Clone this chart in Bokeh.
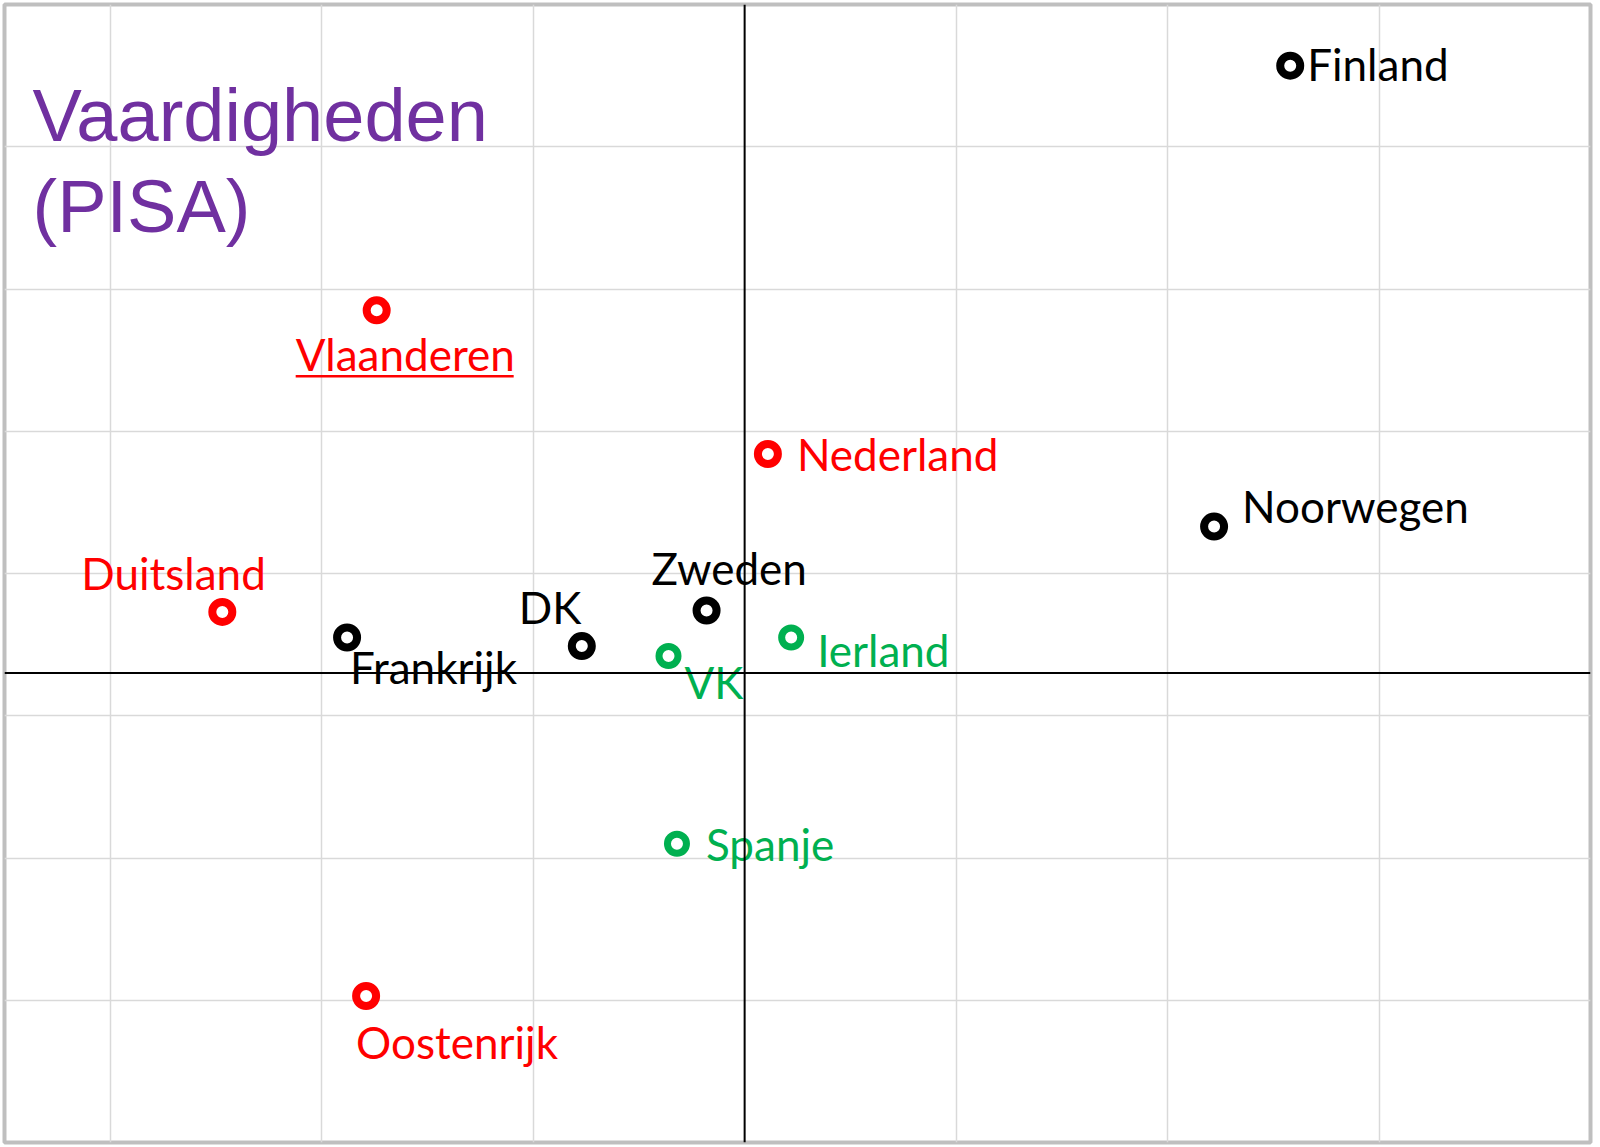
from bokeh.plotting import figure
from bokeh.models import ColumnDataSource, Span, Grid, FixedTicker, Label
from bokeh.core.properties import value
from bokeh.embed import file_html
from bokeh.resources import INLINE

# ---- data (abstract position on the two dimensions) ----
countries = ["Finland", "Vlaanderen", "Nederland", "Noorwegen", "Duitsland",
             "Frankrijk", "DK", "Zweden", "VK", "Ierland", "Spanje", "Oostenrijk"]
x_vals = [2.58, -1.74, 0.11, 2.22, -2.47, -1.88, -0.77, -0.18, -0.36, 0.22, -0.32, -1.79]
y_vals = [4.27, 2.55, 1.54, 1.03, 0.43, 0.25, 0.19, 0.44, 0.12, 0.25, -1.20, -2.27]
groups = ["noord", "rijn", "rijn", "noord", "rijn",
          "noord", "noord", "noord", "anglo", "anglo", "anglo", "rijn"]

# ---- styles ----
group_colors = {"noord": "#000000", "rijn": "#FF0000", "anglo": "#00B050"}
group_sizes = {"noord": 20, "rijn": 20, "anglo": 19}
group_lw = {"noord": 8, "rijn": 8, "anglo": 7}
# label offsets in screen pixels (left edge / baseline relative to marker)
label_dx = [17, -81, 29, 28, -141, 3, -63, -55, 16, 26, 29, -10]
label_dy = [14, 60, 16, -5, -23, 45, -23, -26, 42, 28, 16, 62]
BASELINE_FIX = -16

W, H, B = 1594, 1146, 4
X0, X1 = -3.5, 4.0
Y0, Y1 = -3.3, 4.7

colors = [group_colors[g] for g in groups]
sizes = [group_sizes[g] for g in groups]
lws = [group_lw[g] for g in groups]
dys = [d + BASELINE_FIX for d in label_dy]

src = ColumnDataSource(dict(x=x_vals, y=y_vals, name=countries, color=colors,
                            size=sizes, lw=lws, dx=label_dx, dy=dys))

p = figure(width=W, height=H, x_range=(X0, X1), y_range=(Y0, Y1),
           output_backend="svg", toolbar_location=None,
           min_border_left=B, min_border_right=B, min_border_top=B, min_border_bottom=B)
p.xaxis.visible = False
p.yaxis.visible = False
p.xgrid.visible = False
p.ygrid.visible = False
p.background_fill_color = "white"
p.border_fill_color = "white"
p.outline_line_color = "#BFBFBF"
p.outline_line_width = 4

gx = Grid(dimension=0, ticker=FixedTicker(ticks=[-3, -2, -1, 1, 2, 3]),
          grid_line_color="#D9D9D9", grid_line_width=1.5)
gy = Grid(dimension=1, ticker=FixedTicker(ticks=[-2.3, -1.3, -0.3, 0.7, 1.7, 2.7, 3.7]),
          grid_line_color="#D9D9D9", grid_line_width=1.5)
p.add_layout(gx)
p.add_layout(gy)

p.add_layout(Span(location=0, dimension="height", line_color="black", line_width=2))
p.add_layout(Span(location=0, dimension="width", line_color="black", line_width=2))

p.scatter("x", "y", source=src, marker="circle", size="size",
          fill_color="white", line_color="color", line_width="lw")

p.text("x", "y", text="name", source=src, x_offset="dx", y_offset="dy",
       text_color="color", text_font=value("Lato"), text_font_size="44px",
       text_align="left", text_baseline="alphabetic")

# underline under "Vlaanderen"
ppx = (W - 2 * B) / (X1 - X0)
ppy = (H - 2 * B) / (Y1 - Y0)
vi = countries.index("Vlaanderen")
ux0 = x_vals[vi] + label_dx[vi] / ppx
ux1 = ux0 + 218 / ppx
uy = y_vals[vi] - (label_dy[vi] + 6) / ppy
p.segment(x0=[ux0], y0=[uy], x1=[ux1], y1=[uy], line_color="#FF0000", line_width=2.5)

# title
tx = X0 + 28 / ppx
p.add_layout(Label(x=tx, y=Y1 - 111 / ppy, text="Vaardigheden", text_color="#7030A0",
                   text_font="Liberation Sans", text_font_size="74px",
                   text_baseline="alphabetic"))
p.add_layout(Label(x=tx, y=Y1 - 202 / ppy, text="(PISA)", text_color="#7030A0",
                   text_font="Liberation Sans", text_font_size="74px",
                   text_baseline="alphabetic"))

open("out.html", "w").write(file_html(p, INLINE))
